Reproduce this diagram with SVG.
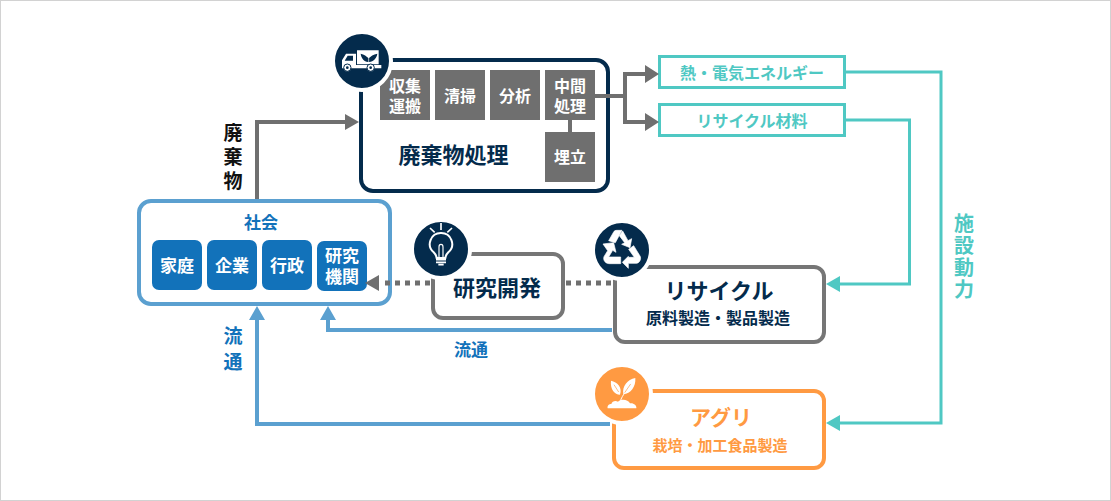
<svg xmlns="http://www.w3.org/2000/svg" width="1111" height="501" viewBox="0 0 1111 501">
<style>
text{font-family:"Noto Sans CJK JP","Noto Sans",sans-serif;font-weight:700;text-anchor:middle}
.vert{writing-mode:vertical-rl}
.card{fill:#fff;stroke-width:4}
.navy{fill:#042b4c}
.step{fill:#6f6f6f}
.stepT{fill:#fff;font-size:16px}
.org{fill:#1272ba}
.orgT{fill:#fff;font-size:17px}
.badge{stroke:#fff;stroke-width:4}
.gline{fill:none;stroke:#6f6f6f;stroke-width:4}
.tline{fill:none;stroke:#4fc8c3;stroke-width:3}
.bline{fill:none;stroke:#5ba0d0;stroke-width:4}
.ink{fill:#042b4c}
.ic{fill:#fff}
</style>
<rect x="0.5" y="0.5" width="1110" height="500" fill="#fff" stroke="#d2d2d2"/>

<g id="waste-treatment">
  <rect class="card" x="361" y="60" width="247" height="131" rx="12" stroke="#042b4c"/>
  <rect class="step" x="380" y="70" width="50" height="50"/>
  <rect class="step" x="435" y="70" width="50" height="50"/>
  <rect class="step" x="490" y="70" width="50" height="50"/>
  <rect class="step" x="545" y="70" width="50" height="50"/>
  <rect class="step" x="545" y="132" width="50" height="50"/>
  <text class="stepT"><tspan x="405" y="92">収集</tspan><tspan x="405" y="112">運搬</tspan></text>
  <text class="stepT" x="460" y="102">清掃</text>
  <text class="stepT" x="515" y="102">分析</text>
  <text class="stepT"><tspan x="570" y="92">中間</tspan><tspan x="570" y="112">処理</tspan></text>
  <text class="stepT" x="570" y="163">埋立</text>
  <text class="ink" x="453.500" y="163" font-size="22">廃棄物処理</text>
  <circle class="navy badge" cx="362" cy="61" r="29"/>
  <g transform="translate(332 31) scale(.3333)">
    <path class="ic" d="M75 58H140V100H75ZM30 104V88L42 68H72V104Z"/>
    <path class="ic" d="M30 102H148V112H30Z"/>
    <path class="navy" d="M47 74H63V89H38Z"/>
    <path class="navy" d="M86 68C96 70 104 76 110 82C116 76 124 70 136 68C134 82 124 92 112 93H108C96 92 88 82 86 68Z"/>
    <path d="M110 93V78" stroke="#fff" stroke-width="2"/>
    <circle cx="46" cy="110" r="11" class="ic" stroke="#042b4c" stroke-width="3"/>
    <circle cx="46" cy="110" r="4" class="navy"/>
    <circle cx="116" cy="110" r="11" class="ic" stroke="#042b4c" stroke-width="3"/>
    <circle cx="116" cy="110" r="4" class="navy"/>
  </g>
</g>

<g id="energy">
  <rect x="659.500" y="56.500" width="185" height="31" fill="#fff" stroke="#4fc8c3" stroke-width="3"/>
  <text x="752" y="79" font-size="16" fill="#4fc8c3">熱・電気エネルギー</text>
</g>
<g id="recycled-material">
  <rect x="659.500" y="104.500" width="185" height="31" fill="#fff" stroke="#4fc8c3" stroke-width="3"/>
  <text x="752" y="127" font-size="16" fill="#4fc8c3">リサイクル材料</text>
</g>

<g id="society">
  <rect class="card" x="139" y="201" width="251" height="103" rx="12" stroke="#5ba0d0"/>
  <text x="261" y="229" font-size="17" fill="#1272ba">社会</text>
  <rect class="org" x="152" y="240" width="50" height="50" rx="7"/>
  <rect class="org" x="207" y="240" width="50" height="50" rx="7"/>
  <rect class="org" x="262" y="240" width="50" height="50" rx="7"/>
  <rect class="org" x="317" y="241" width="50" height="50" rx="7"/>
  <text class="orgT" x="177" y="272">家庭</text>
  <text class="orgT" x="232" y="272">企業</text>
  <text class="orgT" x="287" y="272">行政</text>
  <text class="orgT"><tspan x="342" y="262">研究</tspan><tspan x="342" y="283">機関</tspan></text>
</g>

<g id="research">
  <rect class="card" x="433" y="254" width="130" height="64" rx="10" stroke="#767676"/>
  <text class="ink" x="497" y="296" font-size="22">研究開発</text>
  <circle class="navy badge" cx="441" cy="249" r="29"/>
  <g transform="translate(411 219) scale(.3333)">
    <path d="M90 42A33 33 0 0 0 68 100C74 106 76 110 77 117H103C104 110 106 106 112 100A33 33 0 0 0 90 42Z" fill="none" stroke="#fff" stroke-width="6"/>
    <path d="M84 117V84M96 117V84M84 84A6 8 0 1 1 96 84M84 84A6 8 0 0 1 96 84" fill="none" stroke="#fff" stroke-width="3.500"/>
    <path d="M75 122H105M75 130H105M82 137H98" stroke="#fff" stroke-width="5" fill="none"/>
    <path d="M90 12V33M57 27L71 40M123 27L109 40" stroke="#fff" stroke-width="5" fill="none"/>
  </g>
</g>

<g id="recycle">
  <rect class="card" x="615" y="267" width="209" height="75" rx="10" stroke="#767676"/>
  <text class="ink" x="719" y="299" font-size="22">リサイクル</text>
  <text class="ink" x="718" y="324" font-size="16">原料製造・製品製造</text>
  <circle class="navy badge" cx="622" cy="250" r="29"/>
  <g transform="translate(592 220) scale(.3333)" class="ic" stroke="#fff" stroke-width="2">
    <path d="M50 62L65 36C67 32 71 31 75 31H90L70 68Z"/>
    <path d="M92 33L108 62L119 56L114 83L89 73L98 68L82 47Z"/>
    <path d="M33 72L65 68L72 97L62 91L50 111H86V131H52C42 131 32 122 36 110L47 92Z"/>
    <path d="M125 77L144 108C149 116 143 130 132 130H109V145L91 127L109 109V112H127L110 88Z"/>
  </g>
</g>

<g id="agri">
  <rect class="card" x="614" y="391" width="210" height="77" rx="10" stroke="#ff9a42"/>
  <text x="721" y="425" font-size="21" fill="#ff9a42">アグリ</text>
  <text x="720" y="451" font-size="15" fill="#ff9a42">栽培・加工食品製造</text>
  <circle class="badge" cx="622" cy="394" r="29" fill="#ff9a42"/>
  <g transform="translate(592 364) scale(.3333)">
    <path class="ic" d="M47 133C45 124 52 120 58 120C60 112 70 108 78 113C88 104 108 106 114 118C124 116 135 124 133 133Z"/>
    <path class="ic" d="M84 92C68 92 54 76 57 50C76 54 92 70 84 92ZM94 90C90 68 106 46 130 42C132 68 116 90 94 90Z"/>
    <path d="M85 112C87 104 92 94 108 74" fill="none" stroke="#fff" stroke-width="3"/>
    <path d="M98 86L116 60" fill="none" stroke="#ff9a42" stroke-width="2"/>
    <path d="M80 84L66 62" fill="none" stroke="#ff9a42" stroke-width="2"/>
  </g>
</g>

<g id="connectors">
  <path class="gline" d="M257 199V122H346"/>
  <path class="step" d="M345 114L359 122L345 130Z"/>
  <path class="gline" d="M595 96H625M646 74H625V122H646"/>
  <path class="step" d="M645 65L659 74L645 83ZM645 113L659 122L645 131Z"/>
  <path class="gline" d="M570 120V132"/>
  <path class="tline" d="M846 72H941V423H838M846 120H909.500V284H838"/>
  <path fill="#4fc8c3" d="M840 415L826 423L840 431ZM840 276L826 284L840 292Z"/>
  <path class="gline" stroke-dasharray="5 5" style="stroke-width:5" d="M430 283H382M566 283H612"/>
  <path class="step" d="M379 275L365 283L379 291Z"/>
  <path class="bline" d="M612 330H328V318M610 424H257V318"/>
  <path fill="#5ba0d0" d="M249 320L257 306L265 320ZM320 320L328 306L336 320Z"/>
</g>

<g id="labels">
  <text class="vert" x="233" y="159" font-size="19" letter-spacing="5" fill="#111">廃棄物</text>
  <text class="vert" x="233" y="352" font-size="19" letter-spacing="7" fill="#1272ba">流通</text>
  <text x="471" y="356" font-size="17" fill="#1272ba">流通</text>
  <text class="vert" x="964" y="257" font-size="20" letter-spacing="2" fill="#4fc8c3">施設動力</text>
</g>
</svg>
